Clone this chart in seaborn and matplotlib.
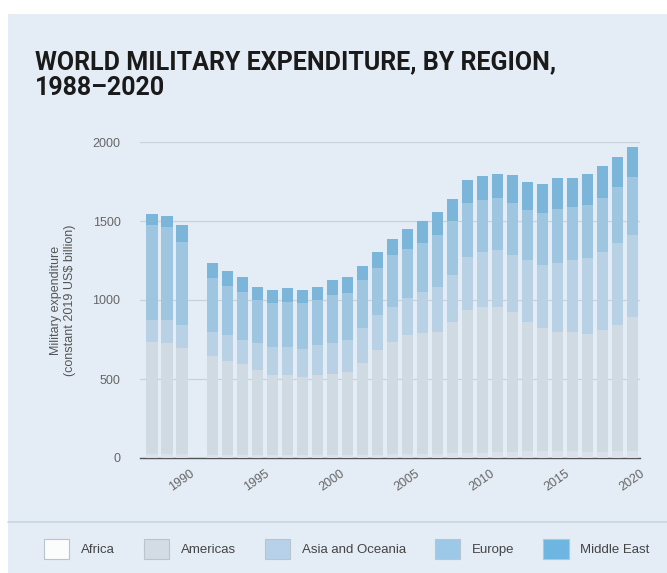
import numpy as np
import pandas as pd
import seaborn as sns
import matplotlib.pyplot as plt
from matplotlib.patches import Patch, Rectangle
from matplotlib.lines import Line2D

years = [1988, 1989, 1990, 1992, 1993, 1994, 1995, 1996, 1997, 1998, 1999, 2000,
         2001, 2002, 2003, 2004, 2005, 2006, 2007, 2008, 2009, 2010, 2011, 2012,
         2013, 2014, 2015, 2016, 2017, 2018, 2019, 2020]
africa = [25, 24, 23, 20, 19, 19, 18, 17, 17, 18, 20, 20,
          21, 22, 22, 24, 25, 26, 28, 31, 33, 34, 38, 39,
          43, 45, 43, 42, 41, 41, 42, 43]
americas = [709, 704, 673, 626, 595, 576, 539, 508, 508, 495, 505, 512,
            523, 579, 661, 710, 753, 765, 769, 830, 904, 922, 918, 882,
            818, 778, 754, 755, 744, 769, 800, 849]
asia_oceania = [139, 145, 146, 151, 164, 152, 171, 178, 178, 177, 190, 196,
                203, 222, 222, 222, 235, 260, 285, 297, 335, 348, 360, 364,
                392, 399, 437, 456, 481, 494, 519, 519]
europe = [602, 589, 525, 342, 311, 304, 272, 278, 284, 291, 285, 304,
          297, 304, 297, 329, 310, 310, 329, 342, 342, 329, 330, 332,
          317, 329, 342, 336, 335, 342, 354, 367]
middle_east = [69, 70, 108, 95, 94, 95, 82, 82, 89, 82, 82, 95,
               102, 88, 102, 101, 126, 139, 146, 139, 145, 152, 151, 171,
               177, 183, 196, 183, 196, 202, 190, 190]

regions = ["Africa", "Americas", "Asia and Oceania", "Europe", "Middle East"]
colors = ["#d9e2ea", "#cfdae3", "#b9d1e5", "#9fc6e1", "#7bb6da"]
legend_colors = ["#fbfcfc", "#d3dce4", "#b7d1ea", "#9cc9e8", "#6db6e2"]
y_ticks = [0, 500, 1000, 1500, 2000]
x_ticks = [1990, 1995, 2000, 2005, 2010, 2015, 2020]

series = [africa, americas, asia_oceania, europe, middle_east]
df = pd.DataFrame({"year": years})
cum = np.zeros(len(years))
for name, vals in zip(regions, series):
    cum = cum + np.array(vals, dtype=float)
    df[name] = cum.copy()

sns.set_style("white")
plt.rcParams["font.family"] = ["Liberation Sans", "DejaVu Sans"]

panel = "#e4edf5"
fig = plt.figure(figsize=(6.67, 5.73), dpi=100)
fig.patch.set_facecolor("white")
fig.add_artist(Rectangle((8 / 667, 0), 1, 1 - 14 / 573, transform=fig.transFigure,
                         facecolor=panel, edgecolor="none", zorder=-10))

ax = fig.add_axes([140 / 667, (573 - 458) / 573, 500 / 667, (458 - 142) / 573])
ax.set_facecolor(panel)

for name, col in reversed(list(zip(regions, colors))):
    sns.barplot(data=df, x="year", y=name, native_scale=True, color=col,
                width=0.74, errorbar=None, ax=ax, saturation=1, zorder=3,
                linewidth=0, edgecolor="none")

ax.set_xlim(1987.2, 2020.5)
ax.set_ylim(0, 2000)
ax.set_yticks(y_ticks)
ax.set_yticklabels([str(t) for t in y_ticks], fontsize=9, color="#666666")
ax.set_xticks(x_ticks)
ax.set_xticklabels([str(t) for t in x_ticks], fontsize=9, color="#666666",
                   rotation=35, ha="center", va="top")
ax.tick_params(axis="x", direction="out", length=5, width=1, color="#555555", pad=2)
ax.tick_params(axis="y", length=0, pad=14)
ax.yaxis.grid(True, color="#c9d2da", linewidth=0.9, zorder=0)
ax.set_axisbelow(True)
for s in ["top", "right", "left"]:
    ax.spines[s].set_visible(False)
ax.spines["bottom"].set_color("#555555")
ax.spines["bottom"].set_linewidth(1.0)
ax.set_xlabel("")
ax.set_ylabel("Military expenditure\n(constant 2019 US$ billion)", fontsize=9,
              color="#555555", labelpad=12)

fig.text(35 / 667, 1 - 75 / 573, "WORLD MILITARY EXPENDITURE, BY REGION,\n1988–2020",
         fontsize=18, fontweight="bold", color="#1a1a1a", va="center", ha="left",
         family=["Roboto", "DejaVu Sans"], linespacing=1.1)

fig.add_artist(Line2D([8 / 667, 1], [1 - 522 / 573, 1 - 522 / 573], transform=fig.transFigure,
                      color="#c8d7e4", linewidth=1.2))

handles = [Patch(facecolor=c, edgecolor="#b9c4cc", linewidth=0.8) for c in legend_colors]
fig.legend(handles, regions, loc="center", bbox_to_anchor=(0.52, 1 - 549 / 573), ncol=5,
           frameon=False, fontsize=9.5, handlelength=1.9, handleheight=1.9,
           columnspacing=2.2, handletextpad=0.9, labelcolor="#444444")

fig.savefig("out.png", dpi=100, facecolor=fig.get_facecolor())
